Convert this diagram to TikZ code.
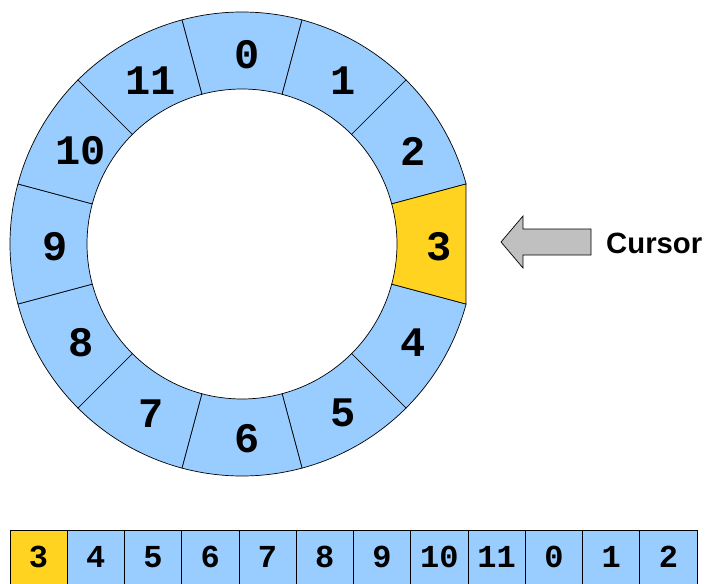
\documentclass[tikz,border=0pt]{standalone}
\usepackage{fontspec}
\setmainfont{Liberation Sans}
\newfontfamily\slotfont{Liberation Mono}
\definecolor{slotblue}{RGB}{153,204,255}
\definecolor{cursoryellow}{RGB}{255,211,32}
\definecolor{arrowgray}{RGB}{192,192,192}

\begin{document}
\begin{tikzpicture}[x=1pt,y=1pt,
  slot/.style={draw=black,line width=0.7pt,fill=slotblue},
  ringnum/.style={font=\slotfont\bfseries\fontsize{42}{42}\selectfont,inner sep=0pt},
  cellnum/.style={font=\slotfont\bfseries\fontsize{32}{32}\selectfont,inner sep=0pt}]
% frame
\clip (-242,-340) rectangle (468,244);
\path[use as bounding box] (-242,-340) rectangle (468,244);
% ring of slots
\foreach \k in {0,1,2,4,5,6,7,8,9,10,11}{
  \pgfmathsetmacro{\a}{90-30*\k}
  \draw[slot] (\a+15:155pt) arc[start angle=\a+15,end angle=\a-15,radius=155pt]
    -- (\a-15:232pt) arc[start angle=\a-15,end angle=\a+15,radius=232pt] -- cycle;
}
% cursor slot
\draw[slot,fill=cursoryellow] (15:155pt) arc[start angle=15,end angle=-15,radius=155pt]
  -- (-15:232pt) -- (15:232pt) -- cycle;
% slot numbers
\foreach \k in {0,...,11}
  \path (90-30*\k:192pt) ++(5,-3) node[ringnum] (slot\k) {\k};
% flat buffer
\foreach \i in {0,...,11}{
  \pgfmathtruncatemacro{\v}{mod(\i+3,12)}
  \ifnum\i=0 \def\c{cursoryellow}\else\def\c{slotblue}\fi
  \draw[slot,fill=\c] (-232+57.25*\i,-286) rectangle ++(57.25,-60);
  \path (-232+57.25*\i+28.6,-313) node[cellnum] (cell\i) {\v};
}
% cursor arrow
\draw[line width=0.7pt,fill=arrowgray] (259,2) -- (281,28) -- (281,15) -- (349,15)
  -- (349,-11) -- (281,-11) -- (281,-24) -- cycle;
\path (364,1) node[anchor=west,inner sep=0pt,font=\bfseries\fontsize{29.3}{30}\selectfont] (cursor) {Cursor};
\end{tikzpicture}
\end{document}
